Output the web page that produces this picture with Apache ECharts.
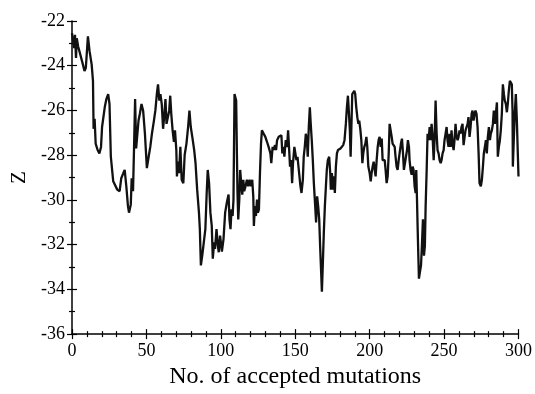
<!DOCTYPE html>
<html>
<head>
<meta charset="utf-8">
<script src="https://cdn.jsdelivr.net/npm/echarts@6/dist/echarts.min.js"></script>
<style>
html,body{margin:0;padding:0;background:#fff;}
#c{width:535px;height:394px;}
</style>
</head>
<body>
<div id="c"></div>
<script>
// Accepted mutation index (x) and Z value (y)
var xs = [0,1.4,2.0,2.7,3.2,4.1,5.0,6.1,7.3,8.4,9.3,10.7,11.8,13.2,14.1,14.5,15.2,15.9,17.2,18.4,19.5,20.2,21.1,22.0,23.1,24.3,25.2,26.1,27.7,28.8,30.4,32.0,33.1,34.5,35.4,36.5,37.6,38.3,39.5,40.1,41.0,41.7,42.4,43.1,44.0,44.7,45.6,46.7,47.8,49.0,50.3,51.5,52.6,53.7,54.9,56.0,57.1,57.8,58.7,59.4,60.3,61.2,62.1,62.8,63.5,64.4,65.3,66.0,66.7,67.6,68.5,69.2,70.1,70.5,71.2,71.9,72.8,73.7,74.8,75.7,76.9,78.0,78.9,79.8,81.0,82.1,83.0,84.1,85.3,85.9,86.6,87.5,88.7,89.6,90.5,91.2,92.1,93.0,93.9,94.6,95.5,96.1,97.1,98.0,98.6,99.5,
100.7,101.8,102.9,104.0,105.2,105.8,106.5,107.2,107.9,108.5,109.2,109.9,110.3,110.8,111.2,111.7,112.4,113.0,113.7,114.4,115.1,115.7,116.6,117.5,118.4,119.3,120.2,121.1,121.8,122.2,122.9,123.6,124.3,124.9,125.6,126.3,127.0,127.6,128.8,129.9,131.0,132.1,133.3,133.9,134.8,135.5,136.4,137.1,137.8,138.9,140.0,140.7,141.3,142.0,142.7,143.6,144.5,145.2,145.8,146.5,147.2,147.9,148.5,149.4,150.1,150.8,151.5,152.8,153.5,154.2,155.1,155.7,156.4,157.1,157.8,158.4,159.1,159.8,160.4,161.1,161.8,162.5,163.4,164.0,164.7,165.4,166.1,166.7,167.4,167.9,168.5,169.2,169.9,170.6,171.2,171.9,172.8,173.5,173.9,174.6,175.3,176.0,176.6,177.3,178.0,178.7,179.6,180.4,181.3,182.2,183.1,184.0,184.7,185.4,186.1,186.7,187.2,187.6,188.3,189.0,189.7,190.3,191.0,191.7,192.4,193.0,193.7,194.4,195.1,195.7,196.4,197.1,197.8,198.4,199.1,200.0,
200.7,201.3,202.0,202.7,203.4,204.0,204.7,205.4,206.0,206.7,207.4,208.1,208.7,209.4,210.1,210.7,211.4,212.1,212.8,213.4,214.1,214.8,215.4,216.1,216.8,217.4,218.1,218.8,219.5,220.1,221.0,221.7,222.4,223.0,223.7,224.4,225.1,225.7,226.4,226.8,227.5,228.2,228.9,229.5,230.2,230.9,231.3,231.8,232.2,232.7,233.1,233.8,234.5,235.1,235.8,236.5,237.1,237.6,238.3,238.9,239.6,240.3,240.9,241.6,242.3,243.0,243.6,244.3,245.0,245.6,246.3,247.0,247.7,248.3,249.0,249.7,250.3,251.0,251.7,252.3,253.0,253.7,254.4,255.0,255.7,256.4,257.0,257.7,258.4,259.1,259.7,260.4,261.1,261.7,262.4,263.1,263.8,264.4,265.1,265.8,266.4,267.1,267.8,268.5,269.1,269.8,270.5,271.1,271.8,272.5,273.2,273.8,274.7,275.4,276.1,276.7,277.4,278.1,278.7,279.4,280.1,280.8,281.4,282.1,282.8,283.4,284.1,284.8,285.5,286.1,286.8,287.5,288.1,288.8,289.5,290.2,290.8,291.5,292.2,292.8,293.5,294.2,294.9,295.5,296.0,296.2,296.9,297.5,298.2,298.9,299.6,300];
var ys = [-22.54,-23.21,-22.62,-23.65,-22.77,-23.13,-23.35,-23.35,-23.94,-24.24,-24.09,-22.69,-23.35,-23.94,-24.68,-26.82,-26.37,-27.48,-27.77,-27.92,-27.63,-26.74,-26.67,-25.86,-25.49,-25.27,-25.71,-28.07,-29.17,-29.25,-29.54,-29.61,-29.03,-28.80,-28.66,-29.39,-30.28,-30.57,-30.20,-29.03,-29.61,-27.63,-25.49,-27.70,-27.70,-26.45,-26.15,-25.71,-26.01,-27.04,-28.58,-28.07,-27.63,-27.04,-26.52,-26.01,-25.20,-24.83,-25.56,-25.27,-25.71,-26.82,-26.15,-25.49,-26.60,-26.30,-26.01,-25.34,-26.15,-26.89,-27.40,-26.89,-27.77,-28.95,-28.29,-28.80,-27.63,-29.10,-29.25,-27.99,-27.48,-26.74,-26.01,-26.74,-27.26,-27.77,-28.36,-29.54,-30.57,-31.31,-32.93,-32.49,-32.49,-31.31,-29.69,-28.66,-29.25,-30.57,-31.16,-32.63,-31.90,-32.19,-31.31,-32.04,-32.34,-31.60,
-32.31,-31.75,-30.57,-30.13,-29.76,-30.87,-31.31,-30.42,-30.72,-29.98,-25.27,-25.20,-25.56,-27.92,-29.69,-30.87,-29.98,-28.66,-29.25,-29.76,-29.10,-29.61,-29.39,-29.10,-29.39,-29.10,-29.39,-29.10,-29.84,-31.16,-30.28,-30.72,-29.98,-30.57,-30.42,-28.80,-27.48,-26.89,-27.04,-27.18,-27.40,-27.63,-27.92,-28.36,-27.63,-27.77,-27.55,-27.77,-27.33,-27.18,-27.26,-27.11,-27.92,-27.63,-28.07,-27.33,-27.63,-26.89,-27.63,-28.51,-28.22,-29.25,-28.36,-27.63,-27.92,-28.22,-28.07,-28.07,-29.39,-29.69,-29.10,-28.07,-27.63,-27.04,-27.33,-28.07,-26.74,-25.86,-26.60,-27.33,-28.22,-29.25,-30.28,-31.01,-29.84,-30.28,-30.87,-32.04,-33.22,-34.11,-32.93,-31.45,-30.28,-29.39,-28.66,-28.22,-28.07,-28.80,-29.54,-28.80,-29.54,-28.95,-29.69,-28.51,-27.92,-27.77,-27.77,-27.70,-27.63,-27.55,-27.33,-26.60,-25.86,-25.34,-26.15,-26.89,-28.07,-27.04,-25.27,-25.34,-25.12,-25.27,-25.86,-26.30,-26.60,-26.45,-26.82,-27.33,-28.36,-27.92,-27.63,-27.48,-27.18,-27.63,-28.51,-28.80,
-29.17,-28.80,-28.51,-28.29,-28.66,-28.95,-28.22,-27.63,-27.33,-27.18,-27.63,-27.26,-28.22,-28.29,-28.22,-28.66,-29.25,-28.95,-27.92,-26.60,-26.60,-27.18,-27.48,-27.55,-27.63,-28.07,-28.51,-28.66,-28.22,-27.92,-27.48,-27.26,-27.92,-28.66,-28.36,-28.07,-27.77,-27.33,-27.63,-28.22,-28.66,-28.88,-28.51,-28.66,-29.39,-29.69,-28.66,-29.98,-31.16,-32.49,-33.52,-33.22,-32.93,-32.04,-30.87,-32.49,-32.04,-30.28,-28.66,-27.04,-27.33,-26.74,-27.33,-26.60,-27.18,-28.22,-27.33,-25.56,-27.04,-27.77,-27.92,-28.22,-28.36,-28.22,-27.92,-27.77,-27.33,-27.04,-26.74,-27.33,-27.63,-27.04,-27.63,-26.89,-27.48,-27.77,-27.33,-26.60,-27.18,-27.33,-27.18,-26.89,-27.04,-26.74,-26.60,-27.55,-27.18,-26.89,-26.74,-26.60,-26.30,-27.18,-26.74,-26.15,-26.01,-26.45,-26.15,-26.01,-26.15,-26.74,-27.92,-29.25,-29.39,-29.10,-28.51,-27.92,-27.63,-27.33,-27.92,-27.18,-26.74,-27.33,-27.04,-26.89,-26.60,-26.01,-26.60,-26.15,-25.64,-28.07,-27.63,-27.33,-26.89,-26.15,-24.83,-25.27,-25.56,-25.71,-26.08,-25.71,-25.12,-24.68,-24.61,-24.83,-26.01,-28.51,-27.18,-26.15,-25.27,-26.45,-28.07,-28.95];
var xTicks = {min: 0, max: 300, step: 50};
var yTicks = {min: -36, max: -22, step: 2};
var xTitle = 'No. of accepted mutations';
var yTitle = 'Z';

var pts = xs.map(function (x, i) { return [x, ys[i]]; });
var font = 'Liberation Serif, Times New Roman, serif';
var chart = echarts.init(document.getElementById('c'), null, {renderer: 'canvas'});

function xAxisBase(extra) {
  return Object.assign({
    type: 'value', min: xTicks.min, max: xTicks.max, interval: xTicks.step,
    position: 'bottom', splitLine: {show: false}
  }, extra);
}
function yAxisBase(extra) {
  return Object.assign({
    type: 'value', min: yTicks.min, max: yTicks.max, interval: yTicks.step,
    position: 'left', splitLine: {show: false}
  }, extra);
}

chart.setOption({
  animation: false,
  backgroundColor: '#fff',
  grid: {left: 72, right: 15, top: 21, bottom: 56},
  xAxis: [
    xAxisBase({
      name: xTitle, nameLocation: 'middle', nameGap: 29,
      nameTextStyle: {fontFamily: font, fontSize: 24, color: '#000'},
      axisLine: {show: true, lineStyle: {color: '#000', width: 1.5}},
      axisTick: {show: true, inside: false, length: 5, lineStyle: {color: '#000', width: 1.2}},
      minorTick: {show: true, splitNumber: 5, length: 3, lineStyle: {color: '#000', width: 1.2}},
      axisLabel: {fontFamily: font, fontSize: 18, color: '#000', margin: 8}
    }),
    xAxisBase({
      axisLine: {show: false},
      axisTick: {show: true, inside: true, length: 5, lineStyle: {color: '#000', width: 1.2}},
      minorTick: {show: true, splitNumber: 5, length: 3, lineStyle: {color: '#000', width: 1.2}},
      axisLabel: {show: false}
    })
  ],
  yAxis: [
    yAxisBase({
      name: yTitle, nameLocation: 'middle', nameGap: 42, nameRotate: 90,
      nameTextStyle: {fontFamily: font, fontSize: 21, color: '#000'},
      axisLine: {show: true, lineStyle: {color: '#000', width: 1.5}},
      axisTick: {show: true, inside: false, length: 5, lineStyle: {color: '#000', width: 1.2}},
      minorTick: {show: true, splitNumber: 2, length: 3, lineStyle: {color: '#000', width: 1.2}},
      axisLabel: {fontFamily: font, fontSize: 18, color: '#000', margin: 7}
    }),
    yAxisBase({
      axisLine: {show: false},
      axisTick: {show: true, inside: true, length: 5, lineStyle: {color: '#000', width: 1.2}},
      minorTick: {show: true, splitNumber: 2, length: 3, lineStyle: {color: '#000', width: 1.2}},
      axisLabel: {show: false}
    })
  ],
  series: [{
    type: 'line', xAxisIndex: 0, yAxisIndex: 0, data: pts,
    showSymbol: false, symbol: 'none',
    lineStyle: {color: '#111', width: 2.3},
    clip: true
  }]
});
</script>
</body>
</html>
